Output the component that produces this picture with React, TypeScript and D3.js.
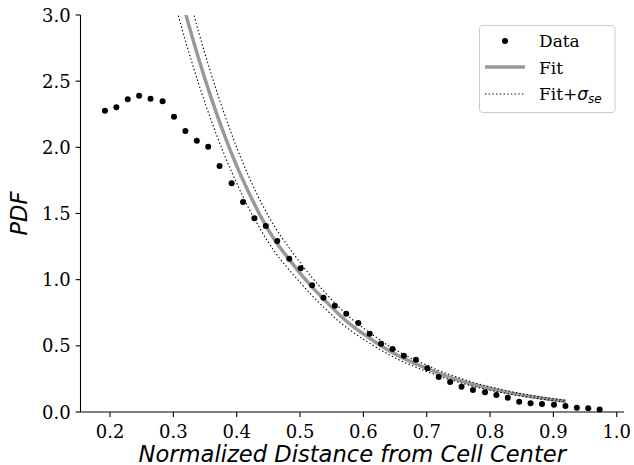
import React from "react";
import * as d3 from "d3";

// measured points (normalized distance vs pdf)
const dataX = [
  0.192, 0.210, 0.228, 0.246, 0.264, 0.283, 0.301, 0.319, 0.337, 0.355, 0.373,
  0.392, 0.410, 0.428, 0.446, 0.464, 0.483, 0.501, 0.519, 0.537, 0.555, 0.573,
  0.592, 0.610, 0.628, 0.646, 0.664, 0.683, 0.701, 0.719, 0.737, 0.755, 0.773,
  0.792, 0.810, 0.828, 0.846, 0.864, 0.882, 0.901, 0.919, 0.937, 0.955, 0.973,
];
const dataY = [
  2.277, 2.302, 2.363, 2.390, 2.368, 2.348, 2.232, 2.124, 2.050, 2.005, 1.859,
  1.728, 1.587, 1.464, 1.406, 1.292, 1.159, 1.086, 0.957, 0.864, 0.803, 0.743,
  0.673, 0.592, 0.516, 0.476, 0.426, 0.395, 0.330, 0.264, 0.227, 0.191, 0.166,
  0.149, 0.128, 0.108, 0.078, 0.066, 0.060, 0.055, 0.045, 0.033, 0.028, 0.018,
];

// fit curve + standard error band
const fitX = [
  0.30, 0.32, 0.34, 0.36, 0.38, 0.40, 0.42, 0.44, 0.46, 0.48, 0.50, 0.52, 0.54,
  0.56, 0.58, 0.60, 0.62, 0.64, 0.66, 0.68, 0.70, 0.72, 0.74, 0.76, 0.78, 0.80,
  0.82, 0.84, 0.86, 0.88, 0.90, 0.92,
];
const fitY = [
  3.37, 3.00, 2.67, 2.37, 2.10, 1.86, 1.65, 1.46, 1.30, 1.17, 1.05, 0.94, 0.84,
  0.745, 0.66, 0.59, 0.525, 0.465, 0.415, 0.37, 0.33, 0.29, 0.257, 0.227, 0.20,
  0.177, 0.156, 0.137, 0.121, 0.106, 0.093, 0.082,
];
const fitUpper = [
  3.62, 3.23, 2.87, 2.55, 2.26, 2.00, 1.77, 1.57, 1.40, 1.26, 1.13, 1.01, 0.90,
  0.80, 0.71, 0.635, 0.565, 0.50, 0.445, 0.395, 0.355, 0.31, 0.277, 0.244, 0.215,
  0.19, 0.168, 0.147, 0.13, 0.114, 0.10, 0.088,
];
const fitLower = [
  3.13, 2.79, 2.48, 2.20, 1.95, 1.73, 1.53, 1.36, 1.21, 1.09, 0.98, 0.875, 0.78,
  0.69, 0.615, 0.55, 0.49, 0.435, 0.385, 0.345, 0.305, 0.27, 0.239, 0.211, 0.186,
  0.165, 0.145, 0.127, 0.113, 0.099, 0.086, 0.076,
];

const xTicks = [0.2, 0.3, 0.4, 0.5, 0.6, 0.7, 0.8, 0.9, 1.0];
const yTicks = [0, 0.5, 1.0, 1.5, 2.0, 2.5, 3.0];

const W = 634, H = 465;
const left = 80.5, right = 624, top = 15, bottom = 412;
const tickLen = 4.9;

export default function App() {
  const x = d3.scaleLinear().domain([0.1534, 1.0115]).range([left, right]);
  const y = d3.scaleLinear().domain([0, 3]).range([bottom, top]);

  const line = d3.line<number>()
    .x((_, i) => x(fitX[i]))
    .curve(d3.curveMonotoneX);
  const fitPath = line.y((d) => y(d))(fitY) || "";
  const upPath = line.y((d) => y(d))(fitUpper) || "";
  const lowPath = line.y((d) => y(d))(fitLower) || "";

  const serif = "'DejaVu Serif', serif";
  const sans = "'DejaVu Sans', sans-serif";

  return (
    <svg width={W} height={H} style={{position: "absolute", left: 0, top: 0, background: "#fff"}}>
      <defs>
        <clipPath id="plot-clip">
          <rect x={left} y={top} width={right - left} height={bottom - top} />
        </clipPath>
      </defs>

      <g clipPath="url(#plot-clip)">
        <path d={fitPath} fill="none" stroke="#999" strokeWidth={3.5} />
        <path d={upPath} fill="none" stroke="#000" strokeWidth={1.1} strokeDasharray="1.4,2.3" />
        <path d={lowPath} fill="none" stroke="#000" strokeWidth={1.1} strokeDasharray="1.4,2.3" />
      </g>

      {dataX.map((d, i) => (
        <circle key={i} cx={x(d)} cy={y(dataY[i])} r={3} fill="#000" />
      ))}

      {/* axes */}
      <line x1={left} x2={left} y1={top} y2={bottom} stroke="#000" strokeWidth={1.1} />
      <line x1={left} x2={right} y1={bottom} y2={bottom} stroke="#000" strokeWidth={1.1} />

      {xTicks.map((t) => (
        <g key={t} transform={`translate(${x(t)},0)`}>
          <line y1={bottom} y2={bottom + tickLen} stroke="#000" strokeWidth={1.1} />
          <text y={438} textAnchor="middle" fontFamily={serif} fontSize={18} fill="#000">
            {t.toFixed(1)}
          </text>
        </g>
      ))}
      {yTicks.map((t) => (
        <g key={t} transform={`translate(0,${y(t)})`}>
          <line x1={left - tickLen} x2={left} stroke="#000" strokeWidth={1.1} />
          <text x={left - tickLen - 5} dy={6.5} textAnchor="end" fontFamily={serif} fontSize={18} fill="#000">
            {t.toFixed(1)}
          </text>
        </g>
      ))}

      <text x={(left + right) / 2} y={461.5} textAnchor="middle" fontFamily={sans}
            fontStyle="italic" fontSize={22.6} fill="#000">
        Normalized Distance from Cell Center
      </text>
      <text transform={`translate(27,${(top + bottom) / 2}) rotate(-90)`} textAnchor="middle"
            fontFamily={sans} fontStyle="italic" fontSize={22.6} fill="#000">
        PDF
      </text>

      {/* legend */}
      <g>
        <rect x={479.5} y={25.5} width={135.5} height={87} rx={3} fill="#fff" stroke="#ccc" strokeWidth={1} />
        <circle cx={505} cy={41} r={3} fill="#000" />
        <text x={539} y={47} fontFamily={serif} fontSize={17} fill="#000">Data</text>
        <line x1={485} x2={525} y1={67} y2={67} stroke="#999" strokeWidth={3.5} />
        <text x={539} y={73.5} fontFamily={serif} fontSize={17} fill="#000">Fit</text>
        <line x1={485} x2={525} y1={94} y2={94} stroke="#000" strokeWidth={1.1} strokeDasharray="1.4,2.3" />
        <text x={539} y={100} fontFamily={serif} fontSize={17} fill="#000">
          Fit+
          <tspan fontFamily={sans} fontStyle="italic">σ</tspan>
          <tspan fontFamily={sans} fontStyle="italic" fontSize={12} dy={3}>se</tspan>
        </text>
      </g>
    </svg>
  );
}
